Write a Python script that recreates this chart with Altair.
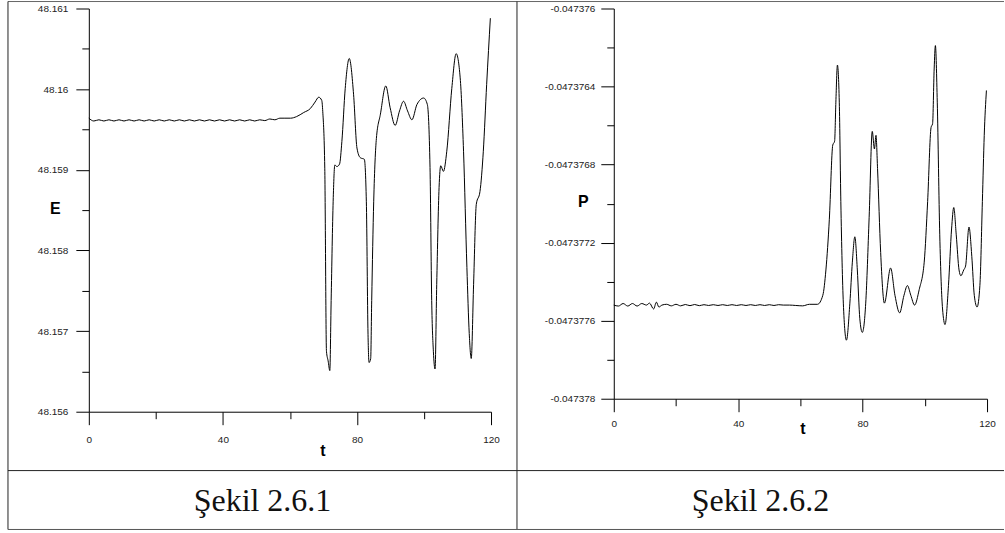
import altair as alt
import pandas as pd

# ---- Energy E(t) ----
t_e = [0, 1.5, 3, 4.5, 6, 7.5, 9, 10.5, 12, 13.5, 15, 16.5, 18, 19.5, 21, 22.5,
       24, 25.5, 27, 28.5, 30, 31.5, 33, 34.5, 36, 37.5, 39, 40.5, 42, 43.5, 45,
       46.5, 48, 49.5, 51, 52.5, 54, 55.5, 57, 58.5, 60.2, 62.0, 64.1, 66.1, 67.5,
       68.6, 69.5, 69.8, 70.4, 70.9, 71.4, 71.9, 72.3, 72.9, 73.4, 74.0, 74.8, 75.5,
       76.5, 77.7, 79.0, 80.0, 81.0, 82.2, 82.8, 83.3, 83.6, 84.1, 84.4, 85.0, 85.8,
       87.0, 88.6, 89.9, 91.4, 92.7, 93.9, 95.1, 96.4, 97.9, 99.9, 101.0, 101.8,
       102.3, 102.8, 103.3, 103.8, 104.5, 105.0, 105.8, 106.8, 108.3, 109.6, 110.8,
       111.8, 112.8, 113.5, 114.1, 114.8, 115.6, 116.7, 117.7, 118.7, 119.8]
e_vals = [48.15964, 48.159605, 48.15962, 48.159605, 48.15962, 48.159605, 48.15962,
          48.159605, 48.15962, 48.159605, 48.15962, 48.159605, 48.15962, 48.159605,
          48.15962, 48.159605, 48.15962, 48.159605, 48.15962, 48.159605, 48.15962,
          48.159605, 48.15962, 48.159605, 48.15962, 48.159605, 48.15962, 48.159605,
          48.15962, 48.159605, 48.15962, 48.159605, 48.15962, 48.159605, 48.15962,
          48.15961, 48.15963, 48.15962, 48.15964, 48.15964, 48.15964, 48.15966,
          48.15971, 48.15976, 48.15984, 48.15990, 48.15986, 48.15972, 48.15902,
          48.15675, 48.15663, 48.15651, 48.15738, 48.15861, 48.15906, 48.15904,
          48.15907, 48.15935, 48.16001, 48.16038, 48.15993, 48.15927, 48.15915,
          48.15913, 48.15861, 48.15696, 48.15661, 48.15666, 48.15738, 48.15861,
          48.15939, 48.15969, 48.16004, 48.15977, 48.15955, 48.15973, 48.15985,
          48.15973, 48.15962, 48.15981, 48.15989, 48.15981, 48.15903, 48.15738,
          48.15675, 48.15653, 48.15758, 48.15878, 48.15905, 48.15898, 48.15923,
          48.16001, 48.16044, 48.16014, 48.15923, 48.15779, 48.15697, 48.15666,
          48.15758, 48.15857, 48.15873, 48.15923, 48.16006, 48.16088]

# ---- Momentum P(t) ----
t_p = [0, 1.5, 3, 4.5, 6, 7.5, 9, 10.5, 11.5, 12.8, 13.7, 14.5, 15.5, 17, 18.5, 20,
       21.5, 23, 24.5, 26, 27.5, 29, 30.5, 32, 33.5, 35, 36.5, 38, 39.5, 41, 42.5,
       44, 45.5, 47, 48.5, 50, 51.5, 53, 54.5, 56.5, 58.5, 60.7, 62.9, 65.5, 67.2,
       68.2, 69.3, 70.4, 71.0, 71.4, 71.9, 72.5, 73.0, 73.8, 74.8, 75.9, 76.7, 77.5,
       78.3, 79.1, 79.9, 81.0, 82.1, 83.1, 83.8, 84.3, 84.8, 85.8, 87.0, 89.0, 90.4,
       91.9, 93.3, 94.4, 95.5, 96.7, 98.2, 99.8, 100.9, 102.0, 102.5, 103.0, 103.4,
       104.0, 104.8, 105.7, 106.5, 107.6, 108.6, 109.3, 110.1, 111.0, 111.6, 112.5,
       113.1, 114.2, 115.1, 115.9, 116.8, 117.7, 118.5, 119.1, 119.8]
p_vals = [-0.04737752, -0.047377525, -0.047377512, -0.047377525, -0.047377512,
          -0.047377525, -0.047377512, -0.04737752, -0.04737751, -0.04737754,
          -0.047377505, -0.04737753, -0.04737752, -0.047377516, -0.047377524,
          -0.047377516, -0.047377524, -0.047377517, -0.047377523, -0.047377517,
          -0.047377523, -0.047377518, -0.047377522, -0.047377518, -0.047377522,
          -0.047377518, -0.047377522, -0.047377518, -0.047377522, -0.047377518,
          -0.047377522, -0.047377518, -0.047377522, -0.047377518, -0.047377522,
          -0.047377518, -0.047377522, -0.047377518, -0.04737752, -0.04737752,
          -0.047377522, -0.047377524, -0.047377516, -0.047377516, -0.04737747,
          -0.04737734, -0.04737708, -0.04737670, -0.04737668, -0.04737648,
          -0.04737629, -0.04737648, -0.04737699, -0.04737751, -0.04737770,
          -0.04737751, -0.04737730, -0.04737717, -0.04737734, -0.04737759,
          -0.04737766, -0.04737751, -0.04737707, -0.04737663, -0.04737672,
          -0.04737665, -0.04737682, -0.04737725, -0.04737751, -0.04737733,
          -0.04737747, -0.04737756, -0.04737747, -0.04737742, -0.04737747,
          -0.04737752, -0.04737744, -0.04737730, -0.04737699, -0.04737661,
          -0.04737659, -0.04737631, -0.04737619, -0.04737648, -0.04737716,
          -0.04737754, -0.04737762, -0.04737742, -0.04737713, -0.04737702,
          -0.04737716, -0.04737734, -0.04737737, -0.04737734, -0.04737732,
          -0.04737712, -0.04737727, -0.04737747, -0.04737753, -0.04737742,
          -0.04737699, -0.04737665, -0.04737642]

t_ticks = [0, 20, 40, 60, 80, 100, 120]
e_ticks = [48.156, 48.1565, 48.157, 48.1575, 48.158, 48.1585, 48.159, 48.1595,
           48.16, 48.1605, 48.161]
p_ticks = [-0.047378, -0.0473778, -0.0473776, -0.0473774, -0.0473772, -0.047377,
           -0.0473768, -0.0473766, -0.0473764, -0.0473762, -0.047376]
captions = ["Şekil 2.6.1", "Şekil 2.6.2"]

df_e = pd.DataFrame({"t": t_e, "E": e_vals})
df_p = pd.DataFrame({"t": t_p, "P": p_vals})

FONT = "Liberation Sans"
one_row = alt.Data(values=[{}])


def x_axis(pad, tx, ty):
    minor = "datum.value % 40 != 0"
    return alt.Axis(values=t_ticks, grid=False,
                    tickSize={"condition": {"test": minor, "value": 7}, "value": 13},
                    labelExpr=f"({minor}) ? '' : datum.label",
                    labelPadding=pad, labelFlush=False, labelOverlap=False,
                    title="t", titleX=tx, titleY=ty, titleAlign="center",
                    titleBaseline="middle")


def rule(x, x2, y, y2, color="#222"):
    return alt.Chart(one_row).mark_rule(color=color, strokeWidth=1).encode(
        x=alt.value(x), x2=alt.value(x2), y=alt.value(y), y2=alt.value(y2))


def caption(text, x, y):
    return alt.Chart(one_row).mark_text(
        font="Liberation Serif", fontSize=32, color="#111", align="center",
        baseline="middle").encode(x=alt.value(x), y=alt.value(y),
                                  text=alt.value(text))


# Left panel: energy
e_minor = "round(datum.value * 2000) % 2 != 0"
e_axis = alt.Axis(values=e_ticks, grid=False,
                  tickSize={"condition": {"test": e_minor, "value": 7}, "value": 13},
                  labelExpr=f"({e_minor}) ? '' : format(datum.value, '.3~f')",
                  labelPadding=8, labelFlush=False, labelOverlap=False,
                  title="E", titleAngle=0, titleX=-34, titleY=200,
                  titleAlign="center", titleBaseline="middle")

e_line = alt.Chart(df_e).mark_line(color="black", strokeWidth=1,
                                   interpolate="monotone").encode(
    x=alt.X("t:Q", scale=alt.Scale(domain=[0, 120], nice=False, zero=False),
            axis=x_axis(10, 234, 39)),
    y=alt.Y("E:Q", scale=alt.Scale(domain=[48.156, 48.161], nice=False, zero=False),
            axis=e_axis),
)

left = alt.layer(
    e_line,
    rule(-81, 917, -7, -7, "#666"),
    rule(-81, -81, -7, 522),
    rule(429, 429, -7, 522),
    rule(-81, 917, 463, 463),
    rule(-81, 917, 522, 522, "#555"),
    caption(captions[0], 174, 493),
).properties(width=403, height=404)

# Right panel: momentum
p_minor = "abs(round(datum.value * 10000000)) % 4 != 0"
p_axis = alt.Axis(values=p_ticks, grid=False,
                  tickSize={"condition": {"test": p_minor, "value": 7}, "value": 13},
                  labelExpr=f"({p_minor}) ? '' : '-' + format(abs(datum.value), '.7~f')",
                  labelPadding=6, labelFlush=False, labelOverlap=False,
                  title="P", titleAngle=0, titleX=-31, titleY=193,
                  titleAlign="center", titleBaseline="middle")

p_line = alt.Chart(df_p).mark_line(color="black", strokeWidth=1,
                                   interpolate="monotone").encode(
    x=alt.X("t:Q", scale=alt.Scale(domain=[0, 120], nice=False, zero=False),
            axis=x_axis(7, 189, 30)),
    y=alt.Y("P:Q", scale=alt.Scale(domain=[-0.047378, -0.047376], nice=False,
                                   zero=False),
            axis=p_axis),
)

right = alt.layer(
    p_line,
    caption(captions[1], 147, 493),
).properties(width=374, height=391)

chart = alt.hconcat(left, right, spacing=123, bounds="flush").properties(
    padding={"left": 7, "top": 0, "right": 0, "bottom": 0},
    background="white",
).configure_view(stroke=None).configure_axis(
    domainColor="black", domainWidth=1, tickColor="black", tickWidth=1,
    labelFont=FONT, labelFontSize=10, labelColor="#222",
    titleFont=FONT, titleFontSize=16, titleFontWeight="bold", titleColor="black",
)

chart.save("out.html", embed_options={"renderer": "svg", "actions": False})
